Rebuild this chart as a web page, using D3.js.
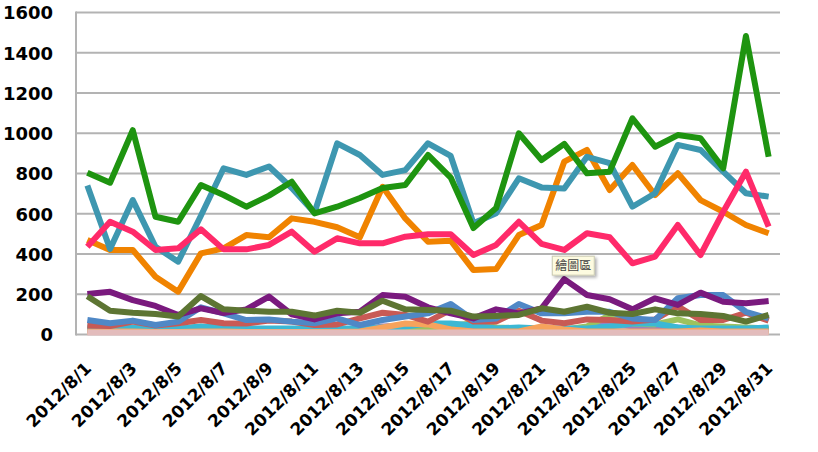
<!DOCTYPE html>
<html>
<head>
<meta charset="utf-8">
<script src="https://cdnjs.cloudflare.com/ajax/libs/d3/7.8.5/d3.min.js"></script>
<style>
  html, body { margin: 0; padding: 0; background: #fff; }
  svg { display: block; }
</style>
</head>
<body>
<svg id="chart" width="818" height="452"></svg>
<script>
// ---- data ----
const dates = d3.range(1, 32).map(d => "2012/8/" + d);
const yTicks = [0, 200, 400, 600, 800, 1000, 1200, 1400, 1600];

const seriesNames = ["lightBlue", "lavender", "lightGreen", "cyan", "lightOrange", "red", "blue", "purple", "olive", "lightPink", "orange", "teal", "pink", "green"];
const seriesColors = ["#9fb8dc", "#9a80bf", "#9dc25e", "#3cb8d4", "#f7a35c", "#c85a55", "#4f88c6", "#7a1a7e", "#5d7533", "#e3bcbc", "#f08300", "#3e97b0", "#ff2a6a", "#1e9410"];

const lightBlue   = [22,20,20,18,20,22,20,20,20,18,18,20,20,22,22,22,22,25,20,22,20,20,22,25,22,22,25,22,22,22,22];
const lavender    = [25,22,20,18,22,25,22,22,22,20,18,20,22,40,45,35,35,25,25,30,22,20,35,65,40,30,35,30,25,25,25];
const lightGreen  = [30,25,22,20,25,38,28,25,25,22,20,22,25,30,35,30,45,55,35,30,30,25,40,95,55,50,75,45,40,35,30];
const cyan        = [35,30,35,30,30,40,35,30,30,30,30,30,30,35,40,55,55,45,30,35,30,30,30,40,55,55,35,30,30,30,35];
const lightOrange = [15,15,15,12,12,15,15,12,12,12,12,12,15,35,55,50,25,15,15,15,40,25,15,15,15,15,15,20,15,15,15];
const red         = [45,42,64,45,56,72,56,55,69,64,47,50,80,108,97,64,122,64,64,118,69,56,75,72,64,75,140,72,72,108,69];
const blue        = [72,56,69,47,64,135,105,72,75,64,56,80,47,72,89,105,152,72,80,152,105,105,113,113,80,72,180,196,196,113,80];
const purple      = [201,212,171,142,97,130,107,125,188,100,75,105,113,196,188,135,105,80,125,105,130,275,196,175,125,180,147,208,163,155,166];
const olive       = [190,118,108,102,89,191,125,118,113,113,94,118,108,168,125,122,118,89,92,97,130,113,138,108,102,125,105,102,92,64,97];
const lightPink   = [10,10,10,10,10,10,10,10,10,10,10,10,10,10,10,10,10,10,10,10,10,10,10,10,10,10,10,10,10,10,10];
const orange      = [470,420,420,287,213,403,428,494,483,577,560,533,483,734,577,461,466,320,325,494,544,859,917,718,842,693,801,668,610,544,503];
const teal        = [740,425,668,436,362,590,826,793,835,728,605,950,892,793,817,950,887,553,603,776,731,726,883,851,635,702,942,917,809,702,685];
const pink        = [436,560,511,420,428,523,423,423,445,511,411,478,453,453,486,498,498,395,445,560,450,420,503,483,354,387,544,395,610,809,536];
const green       = [804,754,1015,585,560,743,693,635,690,759,602,635,678,728,743,892,780,529,628,1000,867,947,801,809,1074,933,991,975,826,1483,883];

const seriesValues = [lightBlue, lavender, lightGreen, cyan, lightOrange, red, blue, purple, olive, lightPink, orange, teal, pink, green];

const tooltipText = "繪圖區";

// ---- layout ----
const svg = d3.select("#chart");
const mLeft = 76, mRight = 780, mTop = 12.5, mBottom = 334.5;

const x = d3.scaleBand().domain(dates).range([mLeft, mRight]);
const y = d3.scaleLinear().domain([0, 1600]).range([mBottom, mTop]);
const cx = d => x(d) + x.bandwidth() / 2;

// gridlines
svg.append("g")
  .selectAll("line")
  .data(yTicks.filter(t => t > 0))
  .join("line")
  .attr("x1", mLeft).attr("x2", mRight)
  .attr("y1", d => y(d)).attr("y2", d => y(d))
  .attr("stroke", "#b3b3b3").attr("stroke-width", 2);

// axes lines
svg.append("line").attr("x1", mLeft).attr("x2", mLeft).attr("y1", mTop - 1).attr("y2", mBottom + 1)
  .attr("stroke", "#b3b3b3").attr("stroke-width", 2);
svg.append("line").attr("x1", mLeft).attr("x2", mRight).attr("y1", mBottom).attr("y2", mBottom)
  .attr("stroke", "#b3b3b3").attr("stroke-width", 2);

// y labels
const yAxis = d3.axisLeft(y).tickValues(yTicks).tickSize(0).tickPadding(0).tickFormat(d3.format("d"));
const ya = svg.append("g").attr("transform", `translate(${mLeft - 23},0)`).call(yAxis);
ya.select(".domain").remove();
ya.selectAll("text")
  .attr("font-family", "DejaVu Sans, sans-serif")
  .attr("font-weight", "bold")
  .attr("font-size", 18)
  .attr("fill", "#000")
  .attr("dy", "0.36em");

// x labels
const xAxis = d3.axisBottom(x).tickValues(dates.filter((d, i) => i % 2 === 0)).tickSize(0).tickPadding(0);
const xa = svg.append("g").attr("transform", `translate(0,${mBottom})`).call(xAxis);
xa.select(".domain").remove();
xa.selectAll("text")
  .attr("font-family", "DejaVu Sans, sans-serif")
  .attr("font-weight", "bold")
  .attr("font-size", 17)
  .attr("fill", "#000")
  .attr("text-anchor", "end")
  .attr("y", 0).attr("dy", 0)
  .attr("transform", "translate(5,35) rotate(-45)");

// lines
const line = d3.line().x((v, i) => cx(dates[i])).y(v => y(v));
svg.append("g")
  .selectAll("path")
  .data(seriesValues)
  .join("path")
  .attr("d", d => line(d))
  .attr("fill", "none")
  .attr("stroke", (d, i) => seriesColors[i])
  .attr("stroke-width", 6)
  .attr("stroke-linejoin", "round")
  .attr("stroke-linecap", "butt");

// tooltip
const tipX = cx(dates[21]) - 12, tipY = y(275) - 23;
const defs = svg.append("defs");
const f = defs.append("filter").attr("id", "sh").attr("x", "-20%").attr("y", "-20%").attr("width", "150%").attr("height", "160%");
f.append("feDropShadow").attr("dx", 2).attr("dy", 2).attr("stdDeviation", 1.5).attr("flood-color", "#000").attr("flood-opacity", 0.3);
const tip = svg.append("g").attr("transform", `translate(${tipX},${tipY})`);
tip.append("rect").attr("width", 42).attr("height", 19)
  .attr("fill", "#fdfbe0").attr("stroke", "#c9c9b0").attr("stroke-width", 1)
  .attr("filter", "url(#sh)");
tip.append("text").attr("x", 21).attr("y", 14).attr("text-anchor", "middle")
  .attr("font-family", "Noto Sans CJK TC, sans-serif").attr("font-size", 12)
  .attr("fill", "#444").text(tooltipText);
</script>
</body>
</html>
